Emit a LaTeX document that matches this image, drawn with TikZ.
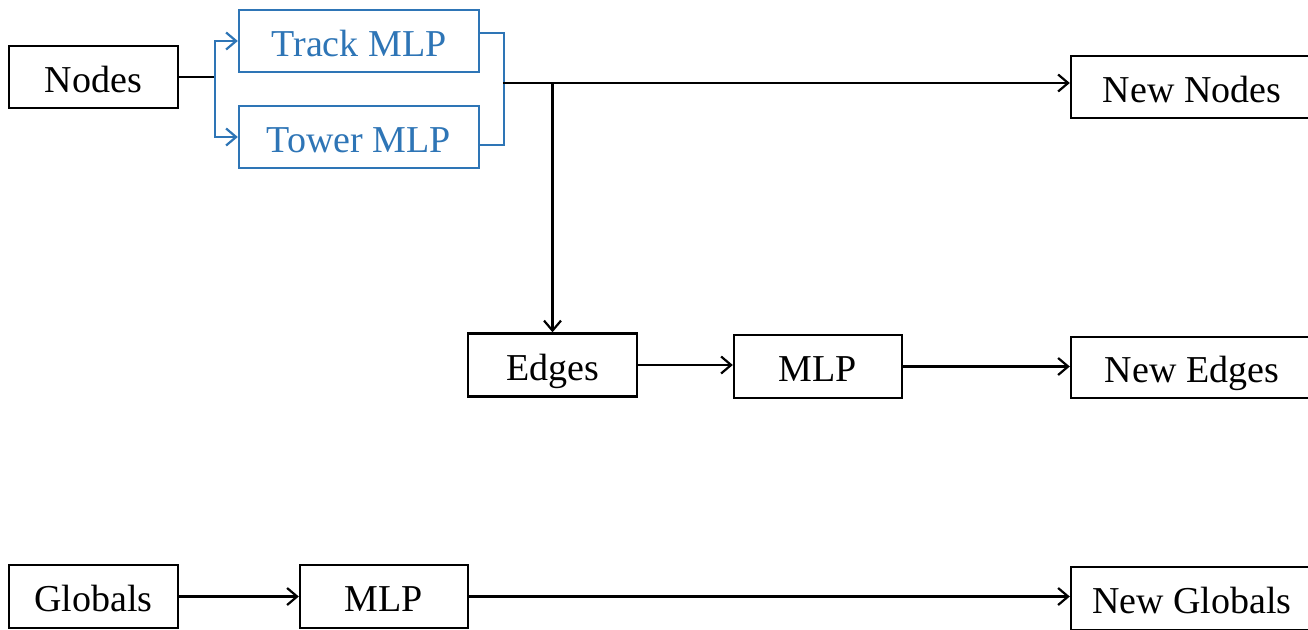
\documentclass[tikz,border=0pt]{standalone}
\usepackage{fontspec}
\setmainfont{Liberation Serif}
\usetikzlibrary{arrows.meta,calc}
\definecolor{mlpblue}{RGB}{46,117,182}
\begin{document}
\begin{tikzpicture}[x=1pt,y=-1pt,
  box/.style={draw=black,line width=2.4pt,rectangle,inner sep=0pt,
    text height=38pt,text depth=8pt,
    font=\fontsize{38}{40}\selectfont},
  bluebox/.style={box,draw=mlpblue,text=mlpblue},
  flow/.style={line width=2.2pt,-{Straight Barb[length=10pt,width=17pt,line width=2.2pt]}},
  link/.style={line width=2.2pt}]
\useasboundingbox (0,0) rectangle (1308,629);
\clip (0,0) rectangle (1308,629);
\fill[white] (0,0) rectangle (1308,629);

% boxes
\node[box,minimum width=169pt,minimum height=62pt] (nodes) at (93.5,77) {Nodes};
\node[bluebox,minimum width=240pt,minimum height=62pt] (track) at (359,41) {Track MLP};
\node[bluebox,minimum width=240pt,minimum height=62pt] (tower) at (359,137) {Tower MLP};
\node[box,minimum width=242pt,minimum height=62pt] (newnodes) at (1192,87) {New Nodes};
\node[box,minimum width=169pt,minimum height=63pt] (edges) at (552.5,365) {Edges};
\node[box,minimum width=168pt,minimum height=63pt] (emlp) at (818,366.5) {MLP};
\node[box,minimum width=242pt,minimum height=61pt] (newedges) at (1192,367.5) {New Edges};
\node[box,minimum width=169pt,minimum height=63pt] (globals) at (93.5,596.5) {Globals};
\node[box,minimum width=168pt,minimum height=63pt] (gmlp) at (384,596.5) {MLP};
\node[box,minimum width=242pt,minimum height=63pt] (newglobals) at (1192,598.5) {New Globals};

% split into the two MLPs
\coordinate (split) at (215,77);
\draw[link] (nodes.east) -- (split);
\draw[flow,draw=mlpblue] (split) |- (track.west);
\draw[flow,draw=mlpblue] (split) |- (tower.west);

% merge of the two MLP outputs
\coordinate (merge) at (503,83);
\draw[link,draw=mlpblue,line join=miter]
  ($(track.east)+(0,-8)$) -| ($(tower.east)+(24,8)$) -- ($(tower.east)+(0,8)$);
\draw[flow] (merge) -- (merge -| newnodes.west);
\draw[flow] (merge -| edges.north) -- (edges.north);

% edge and global updates
\draw[flow] (edges.east) -- (edges.east -| emlp.west);
\draw[flow] (emlp.east) -- (emlp.east -| newedges.west);
\draw[flow] (globals.east) -- (globals.east -| gmlp.west);
\draw[flow] (gmlp.east) -- (gmlp.east -| newglobals.west);
\end{tikzpicture}
\end{document}
